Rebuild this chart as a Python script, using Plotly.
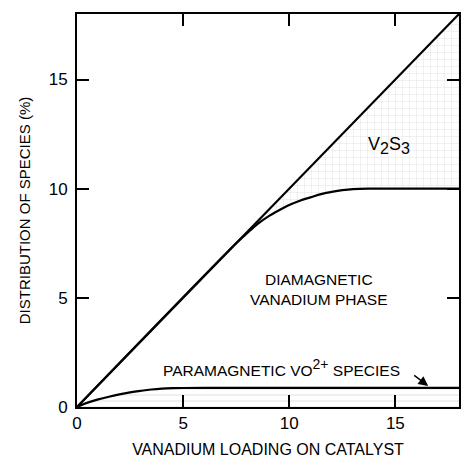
import plotly.graph_objects as go

# Data
total_x = [0, 18]
total_y = [0, 18]

dia_x = [0, 7.5, 8, 8.5, 9, 9.5, 10, 10.5, 11, 11.5, 12, 12.5, 13, 14, 18]
dia_y = [0, 7.5, 7.95, 8.38, 8.72, 9.0, 9.25, 9.45, 9.6, 9.75, 9.85, 9.93, 9.98, 10.0, 10.0]

para_x = [0, 0.5, 1, 1.5, 2, 2.5, 3, 3.5, 4, 4.5, 5, 6, 8, 10, 12, 14, 16, 18]
para_y = [0, 0.2, 0.35, 0.47, 0.58, 0.67, 0.74, 0.8, 0.84, 0.86, 0.87, 0.88, 0.88, 0.88, 0.88, 0.88, 0.88, 0.88]

x_ticks = [0, 5, 10, 15]
y_ticks = [0, 5, 10, 15]

FONT = "Liberation Sans"

fig = go.Figure()

# paramagnetic stippled band
fig.add_trace(go.Scatter(x=para_x, y=[0]*len(para_x), mode="lines",
                         line=dict(color="rgba(0,0,0,0)", width=0), showlegend=False, hoverinfo="skip"))
fig.add_trace(go.Scatter(x=para_x, y=para_y, mode="lines", fill="tonexty",
                         fillcolor="rgba(0,0,0,0)",
                         fillpattern=dict(shape="-", fgcolor="#a8a8a8", bgcolor="white", size=6, solidity=0.12),
                         line=dict(color="black", width=2.2, shape="spline"), showlegend=False, hoverinfo="skip"))

# V2S3 region
fig.add_trace(go.Scatter(x=dia_x, y=dia_y, mode="lines",
                         line=dict(color="black", width=2.2, shape="spline"), showlegend=False, hoverinfo="skip"))
fig.add_trace(go.Scatter(x=total_x, y=total_y, mode="lines", fill="tonexty",
                         fillcolor="rgba(0,0,0,0)",
                         fillpattern=dict(shape="+", fgcolor="#b0b0b0", bgcolor="white", size=7, solidity=0.1),
                         line=dict(color="black", width=2.2), showlegend=False, hoverinfo="skip"))

anns = [
    dict(x=14.7, y=12.0, text="V<sub><span style='font-size:16px'>2</span></sub>S<sub><span style='font-size:16px'>3</span></sub>",
         showarrow=False, font=dict(family=FONT, size=18, color="black")),
    dict(x=11.4, y=5.4, text="DIAMAGNETIC<br>VANADIUM PHASE", showarrow=False,
         font=dict(family=FONT, size=15.5, color="black")),
    dict(x=9.65, y=1.8, text="PARAMAGNETIC VO<sup><span style='font-size:14px'>2+</span></sup> SPECIES", showarrow=False,
         font=dict(family=FONT, size=15.5, color="black")),
    dict(x=16.55, y=0.96, ax=15.75, ay=1.55, xref="x", yref="y", axref="x", ayref="y",
         showarrow=True, arrowhead=2, arrowsize=1.3, arrowwidth=1.5, arrowcolor="black", text=" "),
]

fig.update_layout(
    width=462, height=458,
    margin=dict(l=77, r=1, t=14, b=49),
    paper_bgcolor="white", plot_bgcolor="white",
    annotations=anns,
    font=dict(family=FONT, color="black"),
    xaxis=dict(range=[0, 18], tickvals=x_ticks, ticks="inside", ticklen=12, tickwidth=1.5,
               tickcolor="black", showline=True, linecolor="black", linewidth=2, mirror="ticks",
               showgrid=False, zeroline=False, tickfont=dict(family=FONT, size=17),
               title=dict(text="VANADIUM LOADING ON CATALYST", font=dict(family=FONT, size=16), standoff=12)),
    yaxis=dict(range=[0, 18], tickvals=y_ticks, ticks="inside", ticklen=12, tickwidth=1.5,
               tickcolor="black", showline=True, linecolor="black", linewidth=2, mirror="ticks",
               showgrid=False, zeroline=False, tickfont=dict(family=FONT, size=17),
               ticklabelstandoff=4,
               title=dict(text="DISTRIBUTION OF SPECIES (%)", font=dict(family=FONT, size=15), standoff=14)),
)

fig.write_html("out.html")
